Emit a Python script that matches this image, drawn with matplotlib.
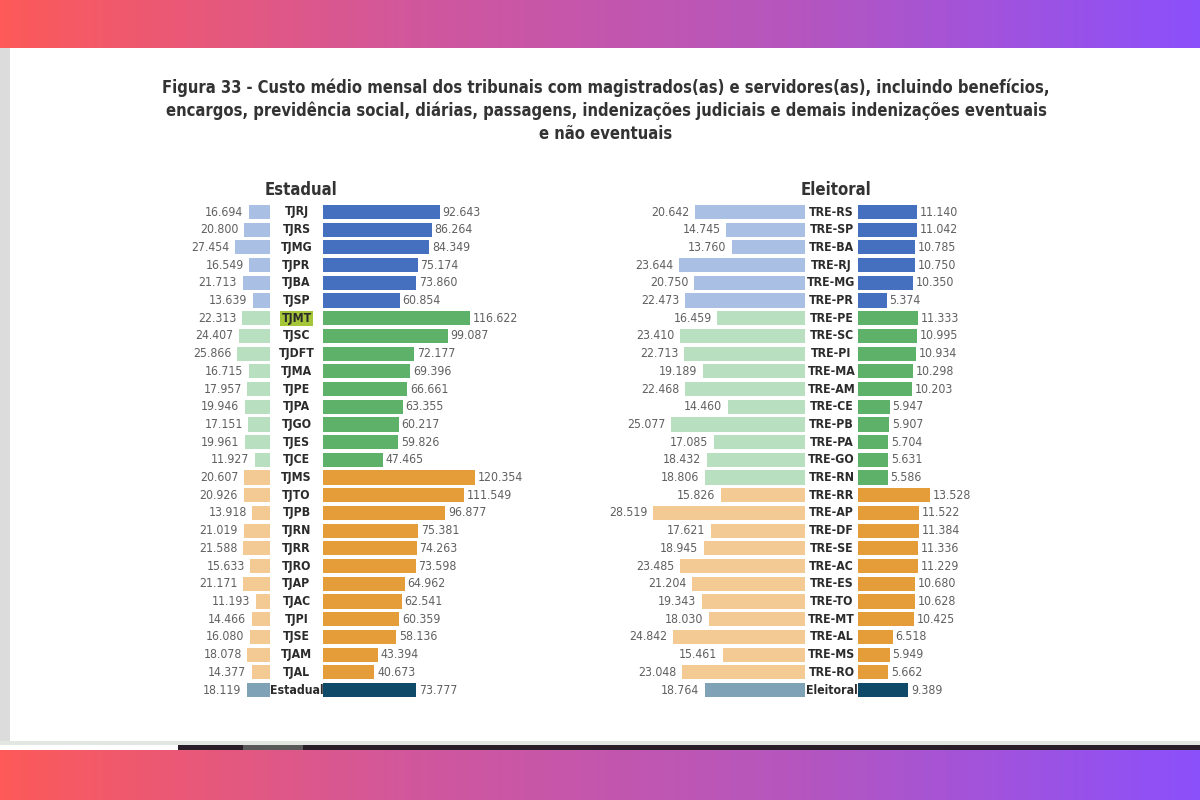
import numpy as np
import matplotlib.pyplot as plt
from matplotlib import font_manager
from matplotlib.colors import LinearSegmentedColormap

# Dados - Justiça Estadual
est_tribunais = ['TJRJ', 'TJRS', 'TJMG', 'TJPR', 'TJBA', 'TJSP',
                 'TJMT', 'TJSC', 'TJDFT', 'TJMA', 'TJPE', 'TJPA', 'TJGO', 'TJES', 'TJCE',
                 'TJMS', 'TJTO', 'TJPB', 'TJRN', 'TJRR', 'TJRO', 'TJAP', 'TJAC', 'TJPI',
                 'TJSE', 'TJAM', 'TJAL', 'Estadual']
est_servidores = [16.694, 20.800, 27.454, 16.549, 21.713, 13.639,
                  22.313, 24.407, 25.866, 16.715, 17.957, 19.946, 17.151, 19.961, 11.927,
                  20.607, 20.926, 13.918, 21.019, 21.588, 15.633, 21.171, 11.193, 14.466,
                  16.080, 18.078, 14.377, 18.119]
est_magistrados = [92.643, 86.264, 84.349, 75.174, 73.860, 60.854,
                   116.622, 99.087, 72.177, 69.396, 66.661, 63.355, 60.217, 59.826, 47.465,
                   120.354, 111.549, 96.877, 75.381, 74.263, 73.598, 64.962, 62.541, 60.359,
                   58.136, 43.394, 40.673, 73.777]
est_porte = ['g'] * 6 + ['m'] * 9 + ['p'] * 12 + ['t']

# Dados - Justiça Eleitoral
ele_tribunais = ['TRE-RS', 'TRE-SP', 'TRE-BA', 'TRE-RJ', 'TRE-MG', 'TRE-PR',
                 'TRE-PE', 'TRE-SC', 'TRE-PI', 'TRE-MA', 'TRE-AM', 'TRE-CE', 'TRE-PB',
                 'TRE-PA', 'TRE-GO', 'TRE-RN',
                 'TRE-RR', 'TRE-AP', 'TRE-DF', 'TRE-SE', 'TRE-AC', 'TRE-ES', 'TRE-TO',
                 'TRE-MT', 'TRE-AL', 'TRE-MS', 'TRE-RO', 'Eleitoral']
ele_servidores = [20.642, 14.745, 13.760, 23.644, 20.750, 22.473,
                  16.459, 23.410, 22.713, 19.189, 22.468, 14.460, 25.077, 17.085, 18.432, 18.806,
                  15.826, 28.519, 17.621, 18.945, 23.485, 21.204, 19.343, 18.030, 24.842,
                  15.461, 23.048, 18.764]
ele_magistrados = [11.140, 11.042, 10.785, 10.750, 10.350, 5.374,
                   11.333, 10.995, 10.934, 10.298, 10.203, 5.947, 5.907, 5.704, 5.631, 5.586,
                   13.528, 11.522, 11.384, 11.336, 11.229, 10.680, 10.628, 10.425, 6.518,
                   5.949, 5.662, 9.389]
ele_porte = ['g'] * 6 + ['m'] * 10 + ['p'] * 11 + ['t']

cor_claro = {'g': '#a9bfe4', 'm': '#b8dfc0', 'p': '#f3ca93', 't': '#7fa2b6'}
cor_escuro = {'g': '#456fbf', 'm': '#5db169', 'p': '#e49d38', 't': '#0f4a68'}

# procura uma fonte condensada, se houver
condensadas = [f for f in font_manager.fontManager.ttflist
               if 'ondensed' in f.fname or 'Narrow' in f.name or 'Condensed' in f.name]
if condensadas:
    plt.rcParams['font.family'] = [condensadas[0].name, 'DejaVu Sans']
    plt.rcParams['font.stretch'] = 'condensed'
    STRETCH = 'condensed'
else:
    plt.rcParams['font.family'] = ['Roboto', 'DejaVu Sans']
    STRETCH = 'normal'

W, H = 1200, 800
fig = plt.figure(figsize=(12, 8), dpi=100)

# fundo: faixas em degradê e moldura
bg = fig.add_axes([0, 0, 1, 1])
bg.set_xlim(0, W)
bg.set_ylim(H, 0)
bg.axis('off')
grad = np.linspace(0, 1, 256).reshape(1, -1)
cmap = LinearSegmentedColormap.from_list('faixa', ['#fd5a59', '#d2579b', '#b556bf', '#8c50fb'])
bg.imshow(grad, cmap=cmap, aspect='auto', extent=(0, W, 48, 0))
bg.imshow(grad, cmap=cmap, aspect='auto', extent=(0, W, 800, 750))
bg.add_patch(plt.Rectangle((0, 48), 10, 694, color='#dcdcdc', lw=0))
bg.add_patch(plt.Rectangle((0, 741), W, 4, color='#e4e6e4', lw=0))
bg.add_patch(plt.Rectangle((178, 745), W - 178, 5, color='#2a1e28', lw=0))
bg.add_patch(plt.Rectangle((243, 745), 60, 5, color='#5a5a5a', lw=0))

titulo = ['Figura 33 - Custo médio mensal dos tribunais com magistrados(as) e servidores(as), incluindo benefícios,',
          'encargos, previdência social, diárias, passagens, indenizações judiciais e demais indenizações eventuais',
          'e não eventuais']
for i, linha in enumerate(titulo):
    fig.text(606, H - 88 - 23 * i, linha, transform=None, ha='center', va='center',
             fontsize=11.9, fontweight='bold', color='#333333', fontstretch=STRETCH)

n = len(est_tribunais)
y_top, y_bot = 212, 690
passo = (y_bot - y_top) / (n - 1)
ax_top = H - (y_top - passo / 2)
ax_h = passo * n


def painel(x_meio_esq, x_meio_dir, esc, lim_esq, lim_dir, nome, tribunais, serv, mag, porte, destaque=None):
    y = np.arange(len(tribunais))
    w_esq = lim_esq * esc
    w_dir = lim_dir * esc
    ax_l = fig.add_axes([(x_meio_esq - w_esq) / W, (ax_top - ax_h) / H, w_esq / W, ax_h / H])
    ax_r = fig.add_axes([x_meio_dir / W, (ax_top - ax_h) / H, w_dir / W, ax_h / H])
    ax_l.barh(y, serv, height=0.8, color=[cor_claro[p] for p in porte])
    ax_r.barh(y, mag, height=0.8, color=[cor_escuro[p] for p in porte])
    ax_l.set_xlim(lim_esq, 0)
    ax_r.set_xlim(0, lim_dir)
    for ax in (ax_l, ax_r):
        ax.set_ylim(len(tribunais) - 0.5, -0.5)
        ax.axis('off')
    for i, v in enumerate(serv):
        ax_l.annotate(f'{v:.3f}', (v, i), xytext=(-4, 0), textcoords='offset points',
                      ha='right', va='center', fontsize=8.8, color='#606060', fontstretch=STRETCH)
    for i, v in enumerate(mag):
        ax_r.annotate(f'{v:.3f}', (v, i), xytext=(2, 0), textcoords='offset points',
                      ha='left', va='center', fontsize=8.8, color='#606060', fontstretch=STRETCH)
    x_lab = (x_meio_esq + x_meio_dir) / 2
    for i, t in enumerate(tribunais):
        kw = {}
        if t == destaque:
            kw['bbox'] = dict(boxstyle='square,pad=0.1', fc='#a6c63a', ec='none')
        fig.text(x_lab, H - (y_top + i * passo), t, transform=None, ha='center', va='center',
                 fontsize=8.8, fontweight='bold', color='#2b2b2b', fontstretch=STRETCH, **kw)
    fig.text(x_lab + 4, H - 190, nome, transform=None, ha='center', va='center',
             fontsize=12, fontweight='bold', color='#333333', fontstretch=STRETCH)


painel(270, 323, 1.26, 30, 130, 'Estadual', est_tribunais, est_servidores, est_magistrados, est_porte, 'TJMT')
painel(805, 858, 5.33, 30, 15, 'Eleitoral', ele_tribunais, ele_servidores, ele_magistrados, ele_porte)

fig.savefig('out.png', dpi=100)
